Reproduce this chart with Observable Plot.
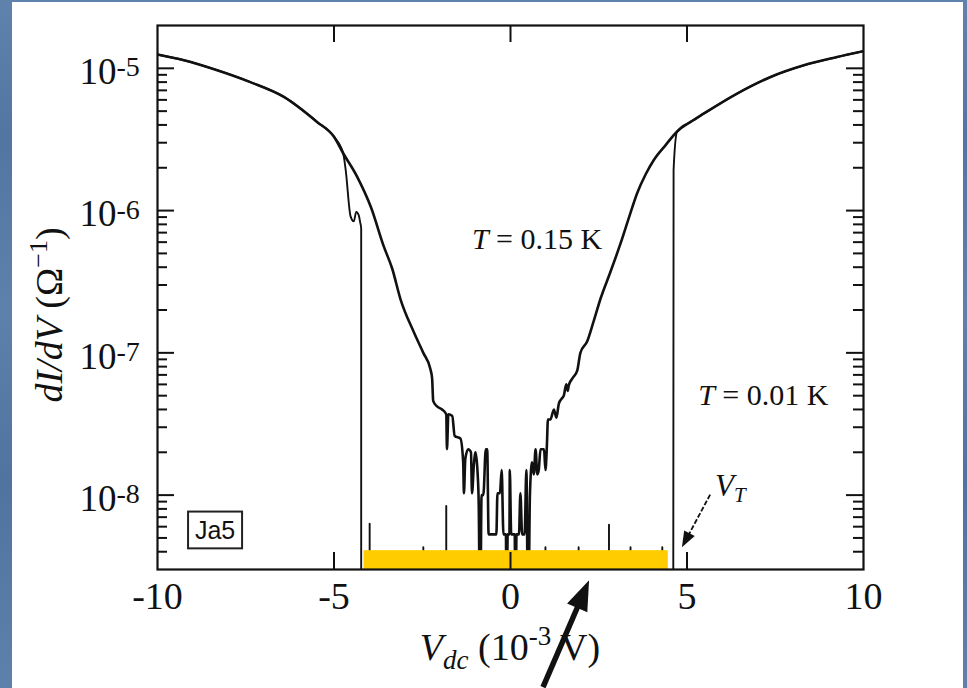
<!DOCTYPE html>
<html>
<head>
<meta charset="utf-8">
<script src="https://cdn.jsdelivr.net/npm/d3@7"></script>
<script src="https://cdn.jsdelivr.net/npm/@observablehq/plot@0.6"></script>
<style>
html, body { margin: 0; padding: 0; width: 967px; height: 688px; overflow: hidden; }
body {
  position: relative;
  background:
    linear-gradient(180deg, rgba(120,150,190,0.35) 0%, rgba(70,100,145,0.1) 20%, rgba(120,150,190,0.3) 45%, rgba(60,90,135,0.15) 70%, rgba(120,150,190,0.3) 100%),
    #5378a3;
}
#panel { position: absolute; left: 12px; top: 2px; width: 951px; height: 686px; background: #fff; }
#chart { position: absolute; left: 0; top: 0; }
</style>
</head>
<body>
<div id="panel"></div>
<div id="chart"></div>
<script>
// ---- data ----
// T = 0.15 K curve: bias voltage (10^-3 V) and dI/dV (1/Ohm); 1e-9 = below the axis (zero)
const V015 = [
  -10, -9.25, -8.31, -7.37, -6.42, -5.48, -5.0, -4.74, -4.35, -3.95,
  -3.59, -3.35, -3.12, -2.74, -2.47, -2.27, -2.22, -2.19, -2.08, -1.94,
  -1.82, -1.80, -1.76, -1.65, -1.58, -1.42, -1.34, -1.32, -1.28, -1.20,
  -1.12, -1.09, -1.04, -0.99, -0.93, -0.90, -0.86, -0.82, -0.77, -0.70,
  -0.66, -0.62, -0.40, -0.37, -0.30, -0.25, -0.20, -0.13, -0.11, -0.08,
  -0.03, -0.02, 0.02, 0.12, 0.14, 0.17, 0.24, 0.28, 0.33, 0.40,
  0.45, 0.50, 0.55, 0.61, 0.66, 0.71, 0.76, 0.80, 0.85, 0.95,
  0.99, 1.03, 1.06, 1.13, 1.23, 1.30, 1.37, 1.46, 1.51, 1.58,
  1.62, 1.65, 1.75, 1.89, 1.98, 2.17, 2.35, 2.55, 2.83, 3.12,
  3.36, 3.59, 3.83, 4.06, 4.40, 4.72, 5.10, 5.47, 6.42, 7.37,
  8.31, 9.25, 10
];
const G015 = [
  1.25e-5, 1.14e-5, 9.7e-6, 8.0e-6, 6.3e-6, 4.2e-6, 3.3e-6, 2.53e-6, 1.74e-6, 1.05e-6,
  5.6e-7, 3.9e-7, 2.4e-7, 1.4e-7, 1.0e-7, 7.7e-8, 6.6e-8, 4.6e-8, 4.2e-8, 4.0e-8,
  3.7e-8, 2.1e-8, 3.7e-8, 3.6e-8, 2.6e-8, 2.5e-8, 1.7e-8, 1.03e-8, 1.8e-8, 2.1e-8,
  2.0e-8, 1.03e-8, 1.6e-8, 2.0e-8, 1.4e-8, 8.6e-9, 1e-9, 1.0e-8, 1.0e-8, 2.1e-8,
  2.1e-8, 5.3e-9, 5.3e-9, 1.03e-8, 1.03e-8, 1.5e-8, 5.3e-9, 5.3e-9, 1e-9, 5.3e-9,
  5.3e-9, 1.5e-8, 5.3e-9, 5.3e-9, 1e-9, 5.3e-9, 5.3e-9, 1.03e-8, 5.3e-9, 5.3e-9,
  1.5e-8, 1e-9, 1.0e-8, 1.7e-8, 1.4e-8, 2.1e-8, 1.4e-8, 1.5e-8, 2.1e-8, 2.1e-8,
  1.5e-8, 2.2e-8, 3.4e-8, 3.4e-8, 4.0e-8, 3.5e-8, 4.4e-8, 4.8e-8, 5.0e-8, 6.0e-8,
  5.4e-8, 5.9e-8, 6.6e-8, 7.5e-8, 1.0e-7, 1.2e-7, 1.65e-7, 2.4e-7, 3.7e-7, 5.9e-7,
  9.0e-7, 1.33e-6, 1.8e-6, 2.27e-6, 2.9e-6, 3.6e-6, 4.2e-6, 4.8e-6, 6.65e-6, 8.7e-6,
  1.05e-5, 1.2e-5, 1.32e-5
];
// T = 0.01 K curve (zero conductance inside the gap, with small spikes)
const V001 = [
  -10, -9.25, -8.31, -7.37, -6.42, -5.48, -5.0, -4.74, -4.67, -4.53,
  -4.44, -4.37, -4.30, -4.26, -4.23, -4.23, -3.99, -3.99, -3.99, -2.47,
  -2.47, -2.47, -1.82, -1.82, -1.82, 0.99, 0.99, 0.99, 1.93, 1.93,
  1.93, 2.79, 2.79, 2.79, 3.40, 3.40, 3.40, 4.30, 4.30, 4.30,
  4.61, 4.62, 4.72, 5.10, 5.47, 6.42, 7.37, 8.31, 9.25, 10
];
const G001 = [
  1.25e-5, 1.14e-5, 9.7e-6, 8.0e-6, 6.3e-6, 4.2e-6, 3.3e-6, 2.53e-6, 1.94e-6, 9.1e-7,
  8.4e-7, 9.8e-7, 9.3e-7, 8.3e-7, 7.5e-7, 1e-9, 1e-9, 6.3e-9, 1e-9, 1e-9,
  4.3e-9, 1e-9, 1e-9, 8.4e-9, 1e-9, 1e-9, 4.3e-9, 1e-9, 1e-9, 4.3e-9,
  1e-9, 1e-9, 6.2e-9, 1e-9, 1e-9, 4.3e-9, 1e-9, 1e-9, 4.3e-9, 1e-9,
  1e-9, 1.93e-6, 3.6e-6, 4.2e-6, 4.8e-6, 6.65e-6, 8.7e-6, 1.05e-5, 1.2e-5, 1.32e-5
];
// highlighted zero-conductance range (yellow bar)
const GAP_FROM = -4.15, GAP_TO = 4.47, GAP_TOP = 4.07e-9;

// axes
const X_DOMAIN = [-10, 10];
const Y_DOMAIN = [3e-9, 2e-5];
const xTicks = [-10, -5, 0, 5, 10];
const xTickLabels = ["-10", "-5", "0", "5", "10"];
const xInnerTicks = [-5, 0, 5];
const yMajor = [1e-8, 1e-7, 1e-6, 1e-5];
const yExponents = ["-8", "-7", "-6", "-5"];
const yMinorMultipliers = [2, 3, 4, 5, 6, 7, 8, 9];
const yDecades = [-9, -8, -7, -6, -5];

// ---- build ----
const SERIF = "'Liberation Serif', 'Times New Roman', serif";
const SANS = "'Liberation Sans', Arial, sans-serif";
const d015 = V015.map((v, i) => ({v, g: G015[i]}));
const d001 = V001.map((v, i) => ({v, g: G001[i]}));
const yMinor = [];
for (const e of yDecades) for (const m of yMinorMultipliers) {
  const val = m * Math.pow(10, e);
  if (val > Y_DOMAIN[0] * 1.001 && val < Y_DOMAIN[1] * 0.999) yMinor.push(val);
}

const W = 967, H = 688;
const mL = 157, mR = 104, mT = 25, mB = 119;
const fw = W - mL - mR, fh = H - mT - mB;
const INK = "#111";

const chart = Plot.plot({
  width: W, height: H,
  marginLeft: mL, marginRight: mR, marginTop: mT, marginBottom: mB,
  style: {background: "transparent", fontFamily: SERIF, fontSize: "38px", color: INK, overflow: "visible"},
  x: {domain: X_DOMAIN, axis: null},
  y: {type: "log", domain: Y_DOMAIN, axis: null},
  marks: [
    Plot.line(d001, {x: "v", y: "g", stroke: INK, strokeWidth: 1.9, curve: "monotone-x", clip: true}),
    Plot.line(d015, {x: "v", y: "g", stroke: INK, strokeWidth: 2.6, curve: "monotone-x", clip: true}),
    Plot.rect([{a: GAP_FROM, b: GAP_TO, lo: Y_DOMAIN[0], hi: GAP_TOP}], {x1: "a", x2: "b", y1: "lo", y2: "hi", fill: "#FFCC00"}),
    // inward ticks
    Plot.ruleX(xInnerTicks, {x: d => d, insetTop: fh - 17, stroke: INK, strokeWidth: 2}),
    Plot.ruleX(xInnerTicks, {x: d => d, insetBottom: fh - 17, stroke: INK, strokeWidth: 2}),
    Plot.ruleY(yMajor, {y: d => d, insetRight: fw - 17, stroke: INK, strokeWidth: 2}),
    Plot.ruleY(yMinor, {y: d => d, insetRight: fw - 10, stroke: INK, strokeWidth: 2}),
    Plot.ruleY(yMajor, {y: d => d, insetLeft: fw - 17, stroke: INK, strokeWidth: 2}),
    Plot.ruleY(yMinor, {y: d => d, insetLeft: fw - 10, stroke: INK, strokeWidth: 2}),
    Plot.frame({stroke: INK, strokeWidth: 2.2}),
    // tick labels
    Plot.text(xTicks, {x: d => d, frameAnchor: "bottom", dy: 27, lineAnchor: "middle", textAnchor: "middle",
      text: (d, i) => xTickLabels[i], fontSize: 38, fill: INK}),
    Plot.text(yMajor, {y: d => d, frameAnchor: "left", dx: -41, dy: 4, lineAnchor: "middle", textAnchor: "end",
      text: () => "10", fontSize: 37, fill: INK}),
    Plot.text(yMajor, {y: d => d, frameAnchor: "left", dx: -41, dy: -1, lineAnchor: "middle", textAnchor: "start",
      text: (d, i) => yExponents[i], fontSize: 28, fill: INK})
  ]
});
document.getElementById("chart").appendChild(chart);

// scales for annotations
const sx = chart.scale("x"), sy = chart.scale("y");
const X = sx.apply ? v => sx.apply(v) : d3.scaleLinear(X_DOMAIN, [mL, W - mR]);
const Y = sy.apply ? v => sy.apply(v) : d3.scaleLog(Y_DOMAIN, [H - mB, mT]);

const svg = d3.select(chart);
const ann = svg.append("g").attr("font-family", SERIF).attr("fill", INK);

function rich(parent, x, y, parts, size, anchor = "start", rotate = 0) {
  const t = parent.append("text").attr("x", x).attr("y", y)
    .attr("font-size", size).attr("text-anchor", anchor);
  if (rotate) t.attr("transform", `rotate(${rotate},${x},${y})`);
  let shift = 0;
  for (const p of parts) {
    const s = t.append("tspan").text(p.t);
    const target = p.shift || 0;
    if (target !== shift) s.attr("dy", target - shift);
    shift = target;
    if (p.size) s.attr("font-size", p.size);
    if (p.it) s.attr("font-style", "italic");
  }
  return t;
}

// temperature labels
rich(ann, X(-1.08), Y(5.3e-7), [{t: "T", it: true}, {t: " = 0.15 K"}], 30);
rich(ann, X(5.33), Y(4.24e-8), [{t: "T", it: true}, {t: " = 0.01 K"}], 30);

// V_T label and dashed arrow
rich(ann, X(5.81), Y(9.7e-9), [{t: "V", it: true}, {t: "T", it: true, size: 21, shift: 6}], 31);
function arrow(x1, y1, x2, y2, width, headLen, headHalf, dash) {
  const dx = x2 - x1, dy = y2 - y1, L = Math.hypot(dx, dy);
  const ux = dx / L, uy = dy / L;
  const bx = x2 - ux * headLen, by = y2 - uy * headLen;
  const line = ann.append("line").attr("x1", x1).attr("y1", y1).attr("x2", bx + ux * 2).attr("y2", by + uy * 2)
    .attr("stroke", INK).attr("stroke-width", width);
  if (dash) line.attr("stroke-dasharray", dash);
  ann.append("path")
    .attr("d", `M${x2},${y2}L${bx - uy * headHalf},${by + ux * headHalf}L${bx + uy * headHalf},${by - ux * headHalf}Z`)
    .attr("fill", INK);
}
arrow(X(5.67), Y(1.0e-8), X(4.87), Y(4.26e-9), 1.8, 16, 6, "5,2");

// Ja5 sample box
const bx1 = X(-9.12), bx2 = X(-7.59), by1 = Y(7.6e-9), by2 = Y(4.19e-9);
ann.append("rect").attr("x", bx1).attr("y", by1).attr("width", bx2 - bx1).attr("height", by2 - by1)
  .attr("fill", "none").attr("stroke", "#222").attr("stroke-width", 2);
ann.append("text").attr("x", (bx1 + bx2) / 2).attr("y", (by1 + by2) / 2 + 9)
  .attr("text-anchor", "middle").attr("font-family", SANS).attr("font-size", 25).text("Ja5");

// axis titles
rich(ann, 62, (mT + H - mB) / 2 + 18,
  [{t: "dI/dV", it: true}, {t: " (Ω"}, {t: "−1", size: 26, shift: -15}, {t: ")", shift: 0}], 38, "middle", -90);
rich(ann, (mL + W - mR) / 2, 660,
  [{t: "V", it: true}, {t: "dc", it: true, size: 27, shift: 9}, {t: " (10", shift: 0},
   {t: "-3", size: 27, shift: -15}, {t: " V)", shift: 0}], 38, "middle");

// big pointing arrow onto the yellow bar
arrow(X(0.935), Y(4.43e-10), X(2.24), Y(2.5e-9), 5.5, 30, 11);
</script>
</body>
</html>
